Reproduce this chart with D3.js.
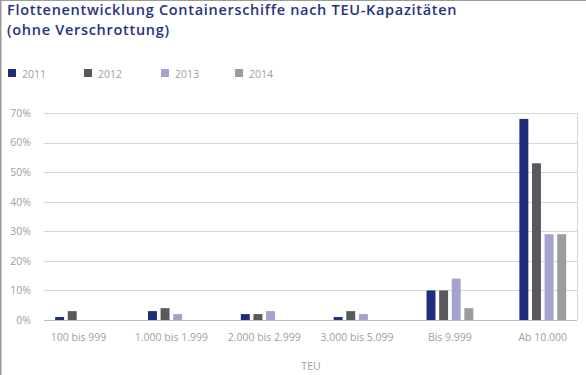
<!DOCTYPE html>
<html>
<head>
<meta charset="utf-8">
<script src="https://cdn.jsdelivr.net/npm/d3@7"></script>
<style>
  body { margin: 0; background: #fff; }
  svg { display: block; font-family: "Open Sans", "DejaVu Sans", sans-serif; }
</style>
</head>
<body>
<div id="chart"></div>
<script>
// data
var categories = ["100 bis 999", "1.000 bis 1.999", "2.000 bis 2.999", "3.000 bis 5.099", "Bis 9.999", "Ab 10.000"]
var years = ["2011", "2012", "2013", "2014"]
var values2011 = [1, 3, 2, 1, 10, 68]
var values2012 = [3, 4, 2, 3, 10, 53]
var values2013 = [0, 2, 3, 2, 14, 29]
var values2014 = [0, 0, 0, 0, 4, 29]
var yTicks = [0, 10, 20, 30, 40, 50, 60, 70]
var titleLines = ["Flottenentwicklung Containerschiffe nach TEU-Kapazitäten", "(ohne Verschrottung)"]
var axisTitle = "TEU"

var series = [values2011, values2012, values2013, values2014]
var colors = ["#1f2d7d", "#58595b", "#a3a3cd", "#9c9c9c"]

var width = 586, height = 375
var plot = {left: 44, right: 577, top: 113, bottom: 320}

var svg = d3.select("#chart").append("svg")
    .attr("width", width)
    .attr("height", height)

// frame (top and left edge)
svg.append("line").attr("x1", 0).attr("x2", width).attr("y1", 0.5).attr("y2", 0.5)
    .attr("stroke", "#9a9a9a").attr("stroke-width", 1)
svg.append("line").attr("x1", 0.75).attr("x2", 0.75).attr("y1", 0).attr("y2", height)
    .attr("stroke", "#9a9a9a").attr("stroke-width", 1.5)

// title
svg.append("g").selectAll("text")
  .data(titleLines)
  .join("text")
    .attr("x", 7)
    .attr("y", (d, i) => 15 + i * 20)
    .attr("fill", "#27337f")
    .attr("font-size", 14.5)
    .attr("font-weight", 600)
    .attr("letter-spacing", 0.7)
    .text(d => d)

// legend
var legendX = [8, 84, 161, 235]
var legend = svg.append("g").selectAll("g")
  .data(years)
  .join("g")
    .attr("transform", (d, i) => `translate(${legendX[i]},69)`)
legend.append("rect")
    .attr("width", 8).attr("height", 8)
    .attr("fill", (d, i) => colors[i])
legend.append("text")
    .attr("x", 14).attr("y", 8.5)
    .attr("fill", "#a0a0a0")
    .attr("font-size", 10.5)
    .text(d => d)

var x0 = d3.scaleBand()
    .domain(categories)
    .range([32.1, 589.2])

var x1 = d3.scaleBand()
    .domain(years)
    .range([-23.4, 23.4])
    .paddingInner(0.29)

var y = d3.scaleLinear()
    .domain([0, 70])
    .range([plot.bottom, plot.top])

// gridlines
svg.append("g").selectAll("line")
  .data(yTicks)
  .join("line")
    .attr("x1", plot.left).attr("x2", plot.right)
    .attr("y1", d => Math.round(y(d)) + 0.5).attr("y2", d => Math.round(y(d)) + 0.5)
    .attr("stroke", d => d === 0 ? "#bdbdbd" : "#d6d6d6")
    .attr("stroke-width", 1)
svg.append("line")
    .attr("x1", plot.right + 0.5).attr("x2", plot.right + 0.5)
    .attr("y1", plot.top).attr("y2", plot.bottom)
    .attr("stroke", "#d6d6d6")

// y tick labels
svg.append("g").selectAll("text")
  .data(yTicks)
  .join("text")
    .attr("x", 31)
    .attr("y", d => y(d) + 3.8)
    .attr("text-anchor", "end")
    .attr("fill", "#a0a0a0")
    .attr("font-size", 10.5)
    .text(d => d + "%")

// bars
var groups = svg.append("g").selectAll("g")
  .data(categories)
  .join("g")
    .attr("transform", d => `translate(${x0(d) + x0.bandwidth() / 2},0)`)

groups.selectAll("rect")
  .data((d, ci) => years.map((yr, si) => ({year: yr, value: series[si][ci], color: colors[si]})))
  .join("rect")
    .filter(d => d.value > 0)
    .attr("x", d => x1(d.year))
    .attr("width", x1.bandwidth())
    .attr("y", d => y(d.value))
    .attr("height", d => y(0) - y(d.value))
    .attr("fill", d => d.color)

// category labels
svg.append("g").selectAll("text")
  .data(categories)
  .join("text")
    .attr("x", d => x0(d) + x0.bandwidth() / 2)
    .attr("y", 341)
    .attr("text-anchor", "middle")
    .attr("fill", "#a0a0a0")
    .attr("font-size", 10.5)
    .text(d => d)

svg.append("text")
    .attr("x", 311)
    .attr("y", 370)
    .attr("text-anchor", "middle")
    .attr("fill", "#a0a0a0")
    .attr("font-size", 10.5)
    .text(axisTitle)
</script>
</body>
</html>
